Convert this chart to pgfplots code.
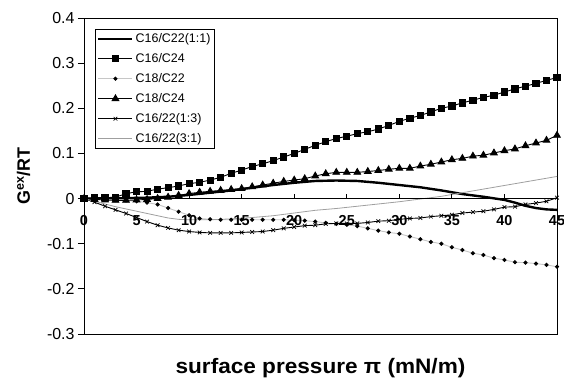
\documentclass[border=0pt]{standalone}
\usepackage{pgfplots}
\pgfplotsset{compat=1.18}
\usepackage{pgfplotstable}
\usepackage{fontspec}
\setmainfont{Liberation Sans}

\pgfplotstableread{
x y
0 0
2 0
4 0.001
6 0.002
8 0.004
10 0.008
12 0.013
14 0.018
16 0.024
18 0.030
20 0.035
22 0.039
24 0.040
26 0.039
28 0.035
30 0.030
32 0.025
34 0.018
36 0.010
38 0.004
40 -0.003
41 -0.009
42 -0.016
43 -0.021
44 -0.024
45 -0.025
}\tA

\pgfplotstableread{
x y
0 0
1 0.002
2 0.002
3 0.003
4 0.011
5 0.015
6 0.016
7 0.021
8 0.024
9 0.028
10 0.033
11 0.036
12 0.041
13 0.047
14 0.056
15 0.063
16 0.071
17 0.077
18 0.084
19 0.092
20 0.100
21 0.109
22 0.118
23 0.126
24 0.133
25 0.138
26 0.144
27 0.148
28 0.154
29 0.162
30 0.171
31 0.178
32 0.184
33 0.192
34 0.200
35 0.205
36 0.212
37 0.218
38 0.224
39 0.229
40 0.236
41 0.243
42 0.249
43 0.255
44 0.262
45 0.268
}\tB

\pgfplotstableread{
x y
0 0
1 -0.001
2 -0.002
3 -0.003
4 -0.004
5 -0.006
6 -0.009
7 -0.013
8 -0.021
9 -0.029
10 -0.037
11 -0.044
12 -0.046
13 -0.047
14 -0.047
15 -0.047
16 -0.047
17 -0.047
18 -0.047
19 -0.047
20 -0.048
21 -0.049
22 -0.051
23 -0.054
24 -0.056
25 -0.058
26 -0.061
27 -0.066
28 -0.071
29 -0.075
30 -0.078
31 -0.084
32 -0.090
33 -0.096
34 -0.100
35 -0.108
36 -0.114
37 -0.121
38 -0.125
39 -0.132
40 -0.136
41 -0.141
42 -0.142
43 -0.144
44 -0.147
45 -0.151
}\tC

\pgfplotstableread{
x y
0 0
1 -0.002
2 -0.003
3 -0.004
4 -0.004
5 -0.003
6 -0.002
7 0.000
8 0.003
9 0.007
10 0.011
11 0.014
12 0.016
13 0.018
14 0.020
15 0.022
16 0.026
17 0.030
18 0.034
19 0.038
20 0.041
21 0.044
22 0.050
23 0.055
24 0.058
25 0.058
26 0.058
27 0.060
28 0.062
29 0.065
30 0.067
31 0.067
32 0.072
33 0.076
34 0.081
35 0.086
36 0.089
37 0.094
38 0.096
39 0.101
40 0.106
41 0.110
42 0.117
43 0.123
44 0.129
45 0.140
}\tD

\pgfplotstableread{
x y
0 0
1 -0.008
2 -0.017
3 -0.025
4 -0.033
5 -0.042
6 -0.051
7 -0.059
8 -0.065
9 -0.070
10 -0.073
11 -0.075
12 -0.076
13 -0.076
14 -0.076
15 -0.075
16 -0.074
17 -0.073
18 -0.070
19 -0.066
20 -0.063
21 -0.060
22 -0.059
23 -0.056
24 -0.055
25 -0.055
26 -0.055
27 -0.053
28 -0.050
29 -0.049
30 -0.046
31 -0.044
32 -0.043
33 -0.040
34 -0.038
35 -0.036
36 -0.032
37 -0.030
38 -0.028
39 -0.024
40 -0.019
41 -0.018
42 -0.013
43 -0.010
44 -0.006
45 0.002
}\tE

\pgfplotstableread{
x y
0 0
1 -0.006
2 -0.012
3 -0.018
4 -0.023
5 -0.028
6 -0.033
7 -0.038
8 -0.043
9 -0.046
10 -0.047
12 -0.047
14 -0.045
16 -0.042
18 -0.038
20 -0.032
22 -0.026
24 -0.022
26 -0.017
28 -0.012
30 -0.007
32 -0.001
34 0.005
36 0.013
38 0.021
40 0.029
42 0.037
45 0.049
}\tF

\begin{document}
\begin{tikzpicture}
\begin{axis}[
  scale only axis, width=473bp, height=316bp,
  xmin=0, xmax=45, ymin=-0.3, ymax=0.4,
  xtick=\empty,
  ytick={-0.3,-0.2,-0.1,0,0.1,0.2,0.3,0.4},
  /pgf/number format/assume math mode=true,
  yticklabel style={/pgf/number format/fixed, /pgf/number format/precision=1,
    font=\fontsize{16}{18}\selectfont},
  ytick align=outside, ytick pos=left, major tick length=6bp,
  tick style={line width=0.8bp, black},
  axis line style={line width=0.8bp, black},
  ylabel={G\textsuperscript{ex}/RT},
  ylabel style={font=\bfseries\fontsize{18}{20}\selectfont, at={(rel axis cs:0,0.5)}, anchor=base, yshift=54bp},
  xlabel={\scalebox{1.08}[1]{surface pressure π (mN/m)}},
  xlabel style={font=\bfseries\fontsize{21}{23}\selectfont, at={(rel axis cs:0.5,0)}, anchor=base, yshift=-40bp},
  legend image code/.code={\draw[mark repeat=2,mark phase=2] plot coordinates {(0bp,0bp)(17bp,0bp)(34bp,0bp)};},
  legend style={at={(rel axis cs:0.023,0.965)}, anchor=north west, draw=black, line width=0.8bp,
    font=\fontsize{12.5}{14}\selectfont, inner sep=2bp, row sep=5.5bp},
  legend cell align=left,
]
\coordinate (bl) at (rel axis cs:0,0);
\coordinate (tr) at (rel axis cs:1,1);
\addplot[black, line width=2.4bp] table[x=x,y=y] {\tA};
\addlegendentry{C16/C22(1:1)}
\addplot[black, line width=0.9bp, mark=square*, mark size=3.1bp, mark options={solid, fill=black}] table[x=x,y=y] {\tB};
\addlegendentry{C16/C24}
\addplot[gray!45, line width=0.9bp, mark=*, mark size=1.6bp, mark options={fill=black, draw=black}] table[x=x,y=y] {\tC};
\addlegendentry{C18/C22}
\addplot[black, line width=0.9bp, mark=triangle*, mark size=3.8bp, mark options={fill=black}] table[x=x,y=y] {\tD};
\addlegendentry{C18/C24}
\addplot[black, line width=0.9bp, mark=x, mark size=2.6bp, mark options={line width=0.7bp}] table[x=x,y=y] {\tE};
\addlegendentry{C16/22(1:3)}
\addplot[gray!75, line width=0.8bp] table[x=x,y=y] {\tF};
\addlegendentry{C16/22(3:1)}
\end{axis}
\begin{axis}[
  scale only axis, width=473bp, height=316bp,
  xmin=0, xmax=45, ymin=-0.3, ymax=0.4,
  axis x line*=middle, axis y line=none,
  xtick={0,5,...,45},
  xtick align=center, major tick length=5bp,
  xtick style={yshift=2.5bp, line width=0.8bp, black},
  hide obscured x ticks=false,
  /pgf/number format/assume math mode=true,
  xticklabel style={font=\bfseries\fontsize{14.5}{16}\selectfont, yshift=-11bp},
  axis line style={line width=0.8bp, black},
]
\end{axis}
\pgfresetboundingbox
\path ([shift={(-84bp,-44bp)}]bl) rectangle ([shift={(7bp,18bp)}]tr);
\end{tikzpicture}
\end{document}
